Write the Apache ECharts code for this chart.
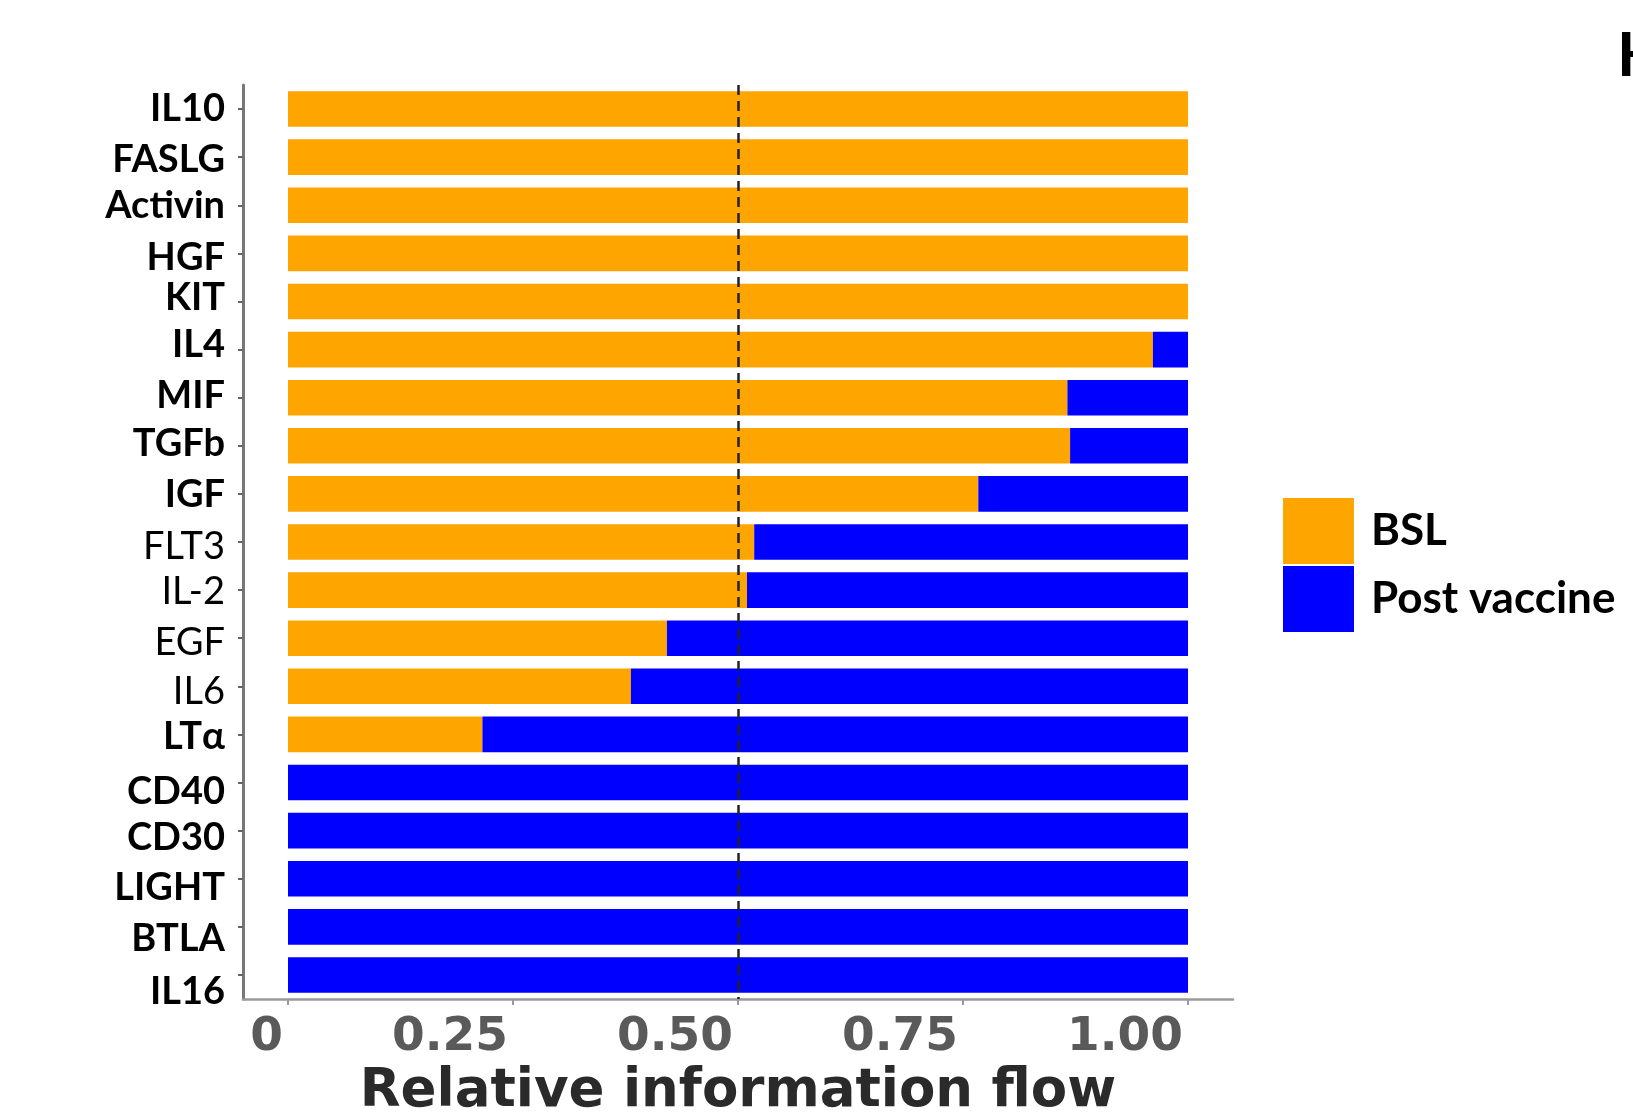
<!DOCTYPE html>
<html>
<head>
<meta charset="utf-8">
<script src="https://cdn.jsdelivr.net/npm/echarts@6/dist/echarts.min.js"></script>
<style>
html,body{margin:0;padding:0;background:#fff;}
#chart{width:1633px;height:1112px;}
</style>
</head>
<body>
<div id="chart"></div>
<script>
var categories = ['IL10','FASLG','Activin','HGF','KIT','IL4','MIF','TGFb','IGF','FLT3','IL-2','EGF','IL6','LT\u03b1','CD40','CD30','LIGHT','BTLA','IL16'];
var boldLabel = [true,true,true,true,true,true,true,true,true,false,false,false,false,true,true,true,true,true,true];
var bslValues = [1,1,1,1,1,0.961,0.866,0.869,0.767,0.518,0.510,0.421,0.381,0.216,0,0,0,0,0];
var postValues = [0,0,0,0,0,0.039,0.134,0.131,0.233,0.482,0.490,0.579,0.619,0.784,1,1,1,1,1];
var tickValues = [0,0.25,0.5,0.75,1];
var tickLabels = ['0','0.25','0.50','0.75','1.00'];
var seriesNames = ['BSL','Post vaccine'];
var refLine = 0.5;
// small vertical nudges of the category labels (style only)
var labelShift = [0,3,0,4,-4,-5,-2,-2,1,5,2,5,5,2,9,7,9,12,17];

var rich = {};
categories.forEach(function(c,i){
  var d = labelShift[i];
  rich['c'+i] = {
    fontFamily:'Lato', fontSize:38, color:'#000',
    fontWeight: boldLabel[i] ? 'bold' : 'normal',
    padding: d >= 0 ? [2*d,0,0,0] : [0,0,-2*d,0]
  };
});

var chart = echarts.init(document.getElementById('chart'));
chart.setOption({
  animation:false,
  backgroundColor:'#fff',
  title:{
    text:'H', left:1612, top:20,
    textStyle:{fontFamily:'Lato', fontWeight:'bold', fontSize:62, color:'#000'}
  },
  legend:{
    data:seriesNames, orient:'vertical', left:1283, top:498,
    itemWidth:71, itemHeight:66, itemGap:2, padding:0, icon:'rect',
    selectedMode:false,
    textStyle:{fontFamily:'Lato', fontWeight:'bold', fontSize:44, color:'#000', padding:[0,0,0,12]}
  },
  grid:{left:243, right:400, top:85, bottom:113, outerBoundsMode:'none'},
  xAxis:{
    type:'value', min:-0.05, max:1.05,
    splitLine:{show:false},
    axisLine:{show:true, onZero:false, lineStyle:{color:'#999', width:2.5}},
    axisTick:{show:true, customValues:tickValues, length:6, lineStyle:{color:'#999', width:2}},
    axisLabel:{
      customValues:tickValues, margin:15, align:'right', padding:[0,5,0,0],
      fontFamily:'DejaVu Sans', fontWeight:'bold', fontSize:47, color:'#5a5a5a',
      formatter:function(v){ var i = tickValues.indexOf(v); return i>=0 ? tickLabels[i] : ''; }
    },
    name:'Relative information flow', nameLocation:'middle', nameGap:62,
    nameTextStyle:{fontFamily:'DejaVu Sans', fontWeight:'bold', fontSize:53, color:'#2a2a2a'}
  },
  yAxis:{
    type:'category', inverse:true, data:categories,
    axisLine:{show:true, onZero:false, lineStyle:{color:'#777', width:3}},
    axisTick:{show:true, alignWithLabel:true, interval:0, length:5, lineStyle:{color:'#666', width:2}},
    axisLabel:{interval:0, margin:18, fontFamily:'Lato', fontSize:38, color:'#000',
      formatter:function(v, i){ return '{c' + i + '|' + v + '}'; },
      rich:rich}
  },
  series:[
    {name:seriesNames[0], type:'bar', stack:'flow', data:bslValues, barWidth:'74%',
     itemStyle:{color:'#FFA500'},
     markLine:{silent:true, symbol:['none','none'], label:{show:false},
       lineStyle:{type:[10,6], color:'#222', width:2.5},
       data:[{xAxis:refLine}]}
    },
    {name:seriesNames[1], type:'bar', stack:'flow', data:postValues, barWidth:'74%',
     itemStyle:{color:'#0000FF'}}
  ]
});
</script>
</body>
</html>
